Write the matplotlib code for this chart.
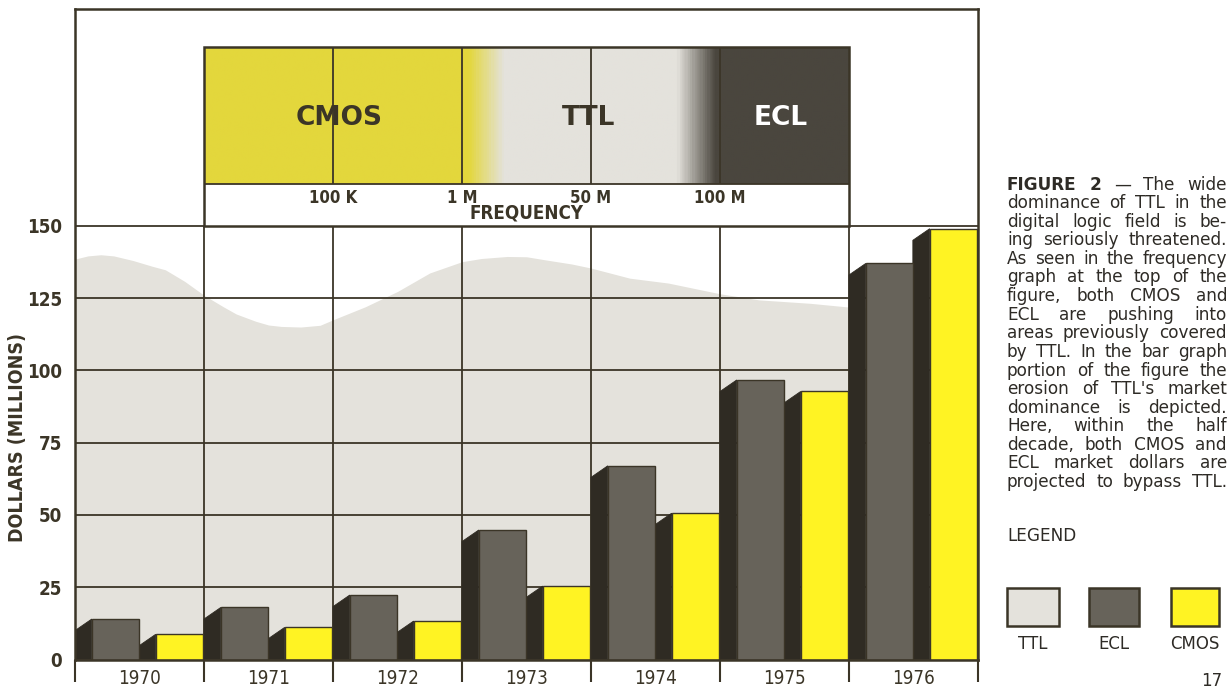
"""TTL / ECL / CMOS market chart (Figure 2 reproduction)"""
import matplotlib
matplotlib.use("Agg")
import matplotlib.pyplot as plt
import numpy as np
from matplotlib import font_manager
from matplotlib.colors import LinearSegmentedColormap
from matplotlib.patches import Rectangle, Polygon

# --- data ---
years = ["1970", "1971", "1972", "1973", "1974", "1975", "1976"]
ecl = [14, 18, 22.3, 44.8, 67, 96.7, 137]
cmos = [8.7, 11.1, 13.3, 25.4, 50.6, 92.7, 149]

# TTL share drawn as the grey backdrop (upper edge, x in year columns)
ttl_x = [0, 0.1, 0.2, 0.3, 0.45, 0.6, 0.7, 0.85, 1.0, 1.15, 1.25, 1.4, 1.5, 1.6, 1.75,
         1.9, 2.0, 2.25, 2.5, 2.75, 3.0, 3.15, 3.35, 3.5, 3.65, 3.85, 4.0, 4.3, 4.6,
         5.0, 5.3, 5.7, 6.0, 7.0]
ttl_top = [138.5, 139.6, 140, 139.6, 138, 136, 134.8, 130.8, 126, 122, 119.5, 117, 115.7,
           115.2, 115, 115.6, 117.5, 122, 127.3, 133.7, 137.6, 138.7, 139.4, 139.3, 138.2,
           136.8, 135.4, 131.9, 130.2, 126.5, 124.4, 123.2, 121.9, 120]

yticks = [0, 25, 50, 75, 100, 125, 150]
freq_ticks = ["100 K", "1 M", "50 M", "100 M"]
bands = ["CMOS", "TTL", "ECL"]
legend_names = ["TTL", "ECL", "CMOS"]

caption = [
    "FIGURE 2 \u2014 The wide",
    "dominance of TTL in the",
    "digital logic field is be-",
    "ing seriously threatened.",
    "As seen in the frequency",
    "graph at the top of the",
    "figure, both CMOS and",
    "ECL are pushing into",
    "areas previously covered",
    "by TTL. In the bar graph",
    "portion of the figure the",
    "erosion of TTL's market",
    "dominance is depicted.",
    "Here, within the half",
    "decade, both CMOS and",
    "ECL market dollars are",
    "projected to bypass TTL.",
]

# --- style ---
W, H = 1231, 692
INK = "#3b3527"
TXT = "#2e2b26"
TTL_C = "#e4e2dc"
ECL_C = "#67635a"
SIDE = "#2f2b23"
YEL = "#fff323"
YEL_FREQ = "#e3d73c"
DARK_FREQ = "#4a463e"

names = {f.name for f in font_manager.fontManager.ttflist}
NARROW = "Liberation Sans Narrow" if "Liberation Sans Narrow" in names else "DejaVu Sans"
BODY = "DejaVu Sans"
narrow_b = dict(family=NARROW, fontweight="bold", fontstretch="condensed", color=INK)


def fx(px):
    return px / W


def fy(py):
    return 1 - py / H


fig = plt.figure(figsize=(W / 100, H / 100), dpi=100, facecolor="white")
ax = fig.add_axes([fx(75), fy(659.5), (978 - 75) / W, (659.5 - 9) / H])
n = len(years)
x = np.arange(n)

# TTL backdrop + grid
ax.fill_between(ttl_x, 0, ttl_top, color=TTL_C, lw=0, zorder=1)
ax.hlines(yticks[1:], 0, n, color=INK, lw=1.3, zorder=2)
ax.vlines(x[1:], 0, 150, color=INK, lw=1.3, zorder=2)

# frequency strip on top
f_lo, f_mid, f_hi = 150, 164.5, 211.7
cmap = LinearSegmentedColormap.from_list(
    "freq", [(0, YEL_FREQ), (0.41, YEL_FREQ), (0.465, TTL_C), (0.735, TTL_C),
             (0.795, DARK_FREQ), (1, DARK_FREQ)])
ax.imshow(np.linspace(0, 1, 600)[None, :], cmap=cmap, extent=(1, 6, f_mid, f_hi),
          aspect="auto", interpolation="bilinear", zorder=2)
ax.add_patch(Rectangle((1, f_lo), 5, f_mid - f_lo, fc="white", ec="none", zorder=2))
ax.vlines(x[2:6], f_mid, f_hi, color=INK, lw=1.3, zorder=3)
ax.hlines(f_mid, 1, 6, color=INK, lw=1.3, zorder=3)
ax.add_patch(Rectangle((1, f_lo), 5, f_hi - f_lo, fill=False, ec=INK, lw=1.8, zorder=4))
for i, lab in enumerate(freq_ticks):
    ax.text(2 + i, 159.7, lab, ha="center", va="center", fontsize=12, zorder=5, **narrow_b)
ax.text(3.5, 154.6, "FREQUENCY", ha="center", va="center", fontsize=13.5, zorder=5, **narrow_b)
for lab, bx, col in zip(bands, [2.05, 3.98, 5.47], [INK, INK, "white"]):
    ax.text(bx, 187.4, lab, ha="center", va="center", fontsize=19, fontweight="bold",
            family="DejaVu Sans", color=col, zorder=5)

# bars with a dark 3D side on the left
bw, dx, dy = 0.365, 0.13, 4
ecl_off, cmos_off = 0.13, 0.625
for i in range(n):
    for off, h in ((ecl_off, ecl[i]), (cmos_off, cmos[i])):
        fl = i + off
        ax.add_patch(Polygon([(fl, 0), (fl, h), (fl - dx, h - dy), (fl - dx, 0)],
                             closed=True, fc=SIDE, ec=SIDE, lw=0.6, zorder=5))
ax.bar(x + ecl_off, ecl, width=bw, align="edge", color=ECL_C, edgecolor=INK, lw=1, zorder=6)
ax.bar(x + cmos_off, cmos, width=bw, align="edge", color=YEL, edgecolor=INK, lw=1, zorder=6)

ax.set_xlim(0, n)
ax.set_ylim(0, 225)

# axes / ticks
for s in ax.spines.values():
    s.set_color(INK)
    s.set_linewidth(1.8)
    s.set_zorder(8)
ax.set_xticks(range(n + 1))
ax.set_xticklabels([])
ax.tick_params(axis="x", which="major", length=16, width=1.5, color=INK, direction="out")
ax.set_xticks(x + 0.5, minor=True)
ax.set_xticklabels(years, minor=True, family=NARROW, fontstretch="condensed",
                   fontsize=13.5, color=INK)
ax.tick_params(axis="x", which="minor", length=0, pad=7)
ax.set_yticks(yticks)
ax.set_yticklabels([str(v) for v in yticks], fontsize=13.5, **narrow_b)
ax.tick_params(axis="y", length=0, pad=9.5)

fig.text(fx(18), fy(437), "DOLLARS (MILLIONS)", rotation=90, ha="center", va="center",
         fontsize=14, **narrow_b)

# caption, justified between two margins
renderer = fig.canvas.get_renderer()
x0, x1 = 1007, 1227
base, step = 189.5, 18.6
for li, line in enumerate(caption):
    words = line.split(" ")
    texts = []
    for wi, w in enumerate(words):
        bold = li == 0 and wi < 2
        texts.append(fig.text(0, fy(base + li * step), w, family=BODY, fontsize=12.2,
                              fontweight="bold" if bold else "normal", color=TXT,
                              va="baseline", ha="left"))
    widths = [t.get_window_extent(renderer).width for t in texts]
    gap = max((x1 - x0 - sum(widths)) / (len(words) - 1), 3)
    cx = x0
    for t, wd in zip(texts, widths):
        t.set_x(fx(cx))
        cx += wd + gap

# legend
fig.text(fx(1007), fy(536), "LEGEND", family=BODY, fontsize=12.2, color=TXT,
         va="center", ha="left")
for lab, (lx, lw_), fc in zip(legend_names, [(1007, 52), (1089, 50), (1171, 48)],
                              [TTL_C, ECL_C, YEL]):
    fig.patches.append(Rectangle((fx(lx), fy(626)), lw_ / W, 38 / H, transform=fig.transFigure,
                                 fc=fc, ec=INK, lw=1.8, figure=fig))
    fig.text(fx(lx + lw_ / 2), fy(644), lab, family=BODY, fontsize=12, color=TXT,
             ha="center", va="center")

fig.text(fx(1212), fy(672), "17", family=BODY, fontsize=12, color=TXT, ha="center", va="top")

fig.savefig("out.png", dpi=100)
print("saved: out.png")
